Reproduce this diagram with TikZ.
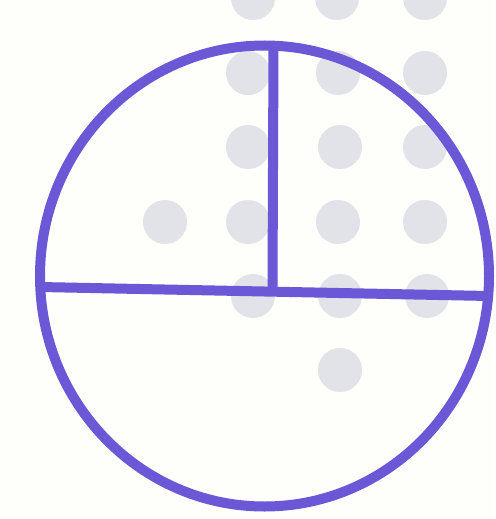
\documentclass[tikz,border=0pt]{standalone}
\definecolor{ink}{RGB}{106,88,214}
\definecolor{dotgray}{RGB}{226,226,233}
\definecolor{paper}{RGB}{254,254,250}
\begin{document}
\begin{tikzpicture}[x=1pt,y=-1pt,
  dotbg/.style={fill=dotgray},
  inkline/.style={draw=ink,line width=10pt}]
\fill[paper] (0,0) rectangle (495,519);
\useasboundingbox (0,0) rectangle (495,519);
% background dots
\foreach \x/\y in {253/-2,337/-2,425/-2,
                   248/73,338/73,425/73,
                   248/147,340/147,425/147,
                   165/222,248/222,338/222,425/222,
                   253/296,340/296,427/296,
                   340/370}
  \fill[dotbg] (\x,\y) circle (22);
% named points
\coordinate (c) at (264.5,276);
\coordinate (hl) at (40,287);
\coordinate (hr) at (489,296);
\coordinate (vt) at (273.5,46);
\coordinate (vb) at (272.5,289);
\draw[inkline] (c) ellipse [x radius=224.5, y radius=230.5];
\draw[inkline] (hl) -- (hr);
\draw[inkline] (vt) -- (vb);
\end{tikzpicture}
\end{document}
